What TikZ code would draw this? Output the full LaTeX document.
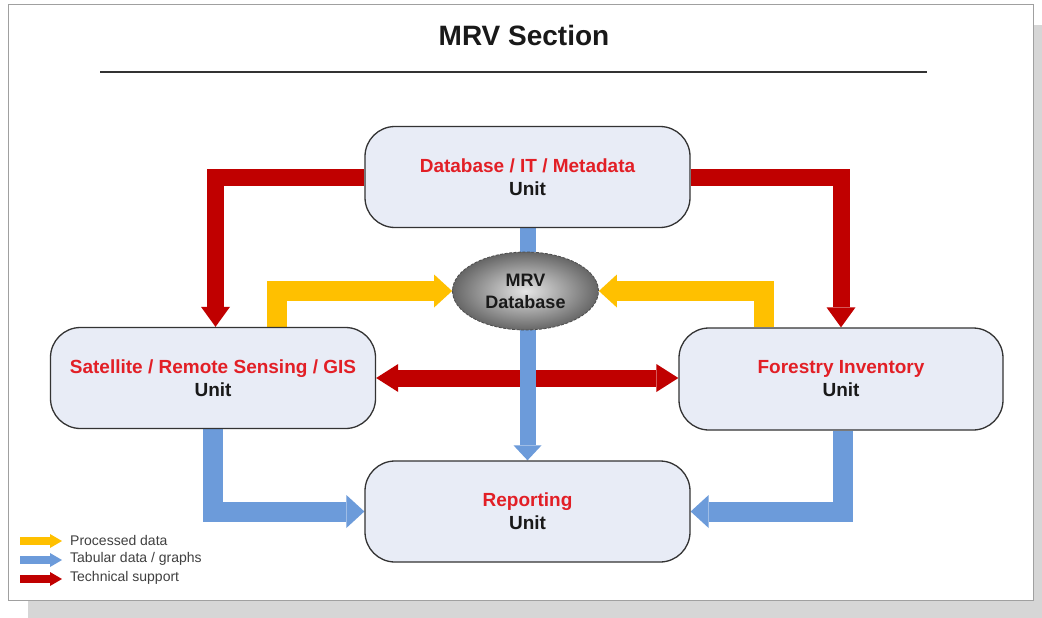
\documentclass[tikz,border=0pt]{standalone}
\usepackage{fontspec}
\setmainfont{Liberation Sans}
\usetikzlibrary{arrows.meta,shapes.geometric,calc}
\definecolor{shadowgray}{HTML}{D6D6D6}
\definecolor{pageline}{HTML}{A0A0A0}
\definecolor{boxfill}{HTML}{E8ECF6}
\definecolor{boxline}{HTML}{333333}
\definecolor{redtext}{HTML}{E21F26}
\definecolor{arrred}{HTML}{C00000}
\definecolor{arryel}{HTML}{FFC000}
\definecolor{arrblue}{HTML}{6C9BDA}
\pgfdeclarelayer{bottom}
\pgfdeclarelayer{background}
\pgfsetlayers{bottom,background,main}
\tikzset{
  unitbox/.style={draw=boxline, line width=1.3pt, fill=boxfill, rounded corners=30pt,
    minimum width=325pt, minimum height=101pt, inner sep=0pt, align=center,
    font=\fontsize{19}{23}\selectfont\bfseries, text=black!90},
  dbell/.style={ellipse, minimum width=146pt, minimum height=78pt, inner sep=0pt,
    draw=black!70, dash pattern=on 3pt off 1.5pt, line width=0.8pt,
    inner color=black!10, outer color=black!60, align=center,
    font=\fontsize{18}{22}\selectfont\bfseries, text=black!90},
  redarr/.style={draw=arrred, line width=17pt,
    -{Triangle[width=29pt,length=20pt,line width=0pt]}},
  reddbl/.style={draw=arrred, line width=17pt,
    {Triangle[width=28pt,length=22pt,line width=0pt]}-{Triangle[width=28pt,length=22pt,line width=0pt]}},
  yelarr/.style={draw=arryel, line width=20pt,
    -{Triangle[width=33pt,length=18pt,line width=0pt]}},
  bluearr/.style={draw=arrblue, line width=20pt,
    -{Triangle[width=33pt,length=18pt,line width=0pt]}},
  bluemid/.style={draw=arrblue, line width=16pt,
    -{Triangle[width=28pt,length=15pt,line width=0pt]}},
  blueshaft/.style={draw=arrblue, line width=16pt},
  legyel/.style={draw=arryel, line width=8pt, -{Triangle[width=14pt,length=12pt,line width=0pt]}},
  legblue/.style={draw=arrblue, line width=8pt, -{Triangle[width=14pt,length=12pt,line width=0pt]}},
  legred/.style={draw=arrred, line width=8pt, -{Triangle[width=14pt,length=12pt,line width=0pt]}},
  legtext/.style={anchor=west, inner sep=0pt, font=\fontsize{14}{16}\selectfont, text=black!75},
}
\begin{document}
\begin{tikzpicture}[x=1pt,y=-1pt]
\useasboundingbox (0,0) rectangle (1042,618);
\begin{pgfonlayer}{bottom}
  \fill[shadowgray] (28,25) rectangle (1042,618);
  \draw[pageline, fill=white, line width=1pt] (8,5) rectangle (1033,600);
\end{pgfonlayer}

\node[font=\fontsize{28}{32}\selectfont\bfseries, text=black!90] (title) at (524,35) {MRV Section};
\draw[line width=2pt, black!80] (100,72) coordinate (rulea) -- (927,72) coordinate (ruleb);

\node[unitbox] (db) at (527.5,177) {\textcolor{redtext}{Database / IT / Metadata}\\Unit};
\node[unitbox] (sat) at (213,378) {\textcolor{redtext}{Satellite / Remote Sensing / GIS}\\Unit};
\node[unitbox, minimum width=324pt, minimum height=102pt] (fi) at (841,379) {\textcolor{redtext}{Forestry Inventory}\\Unit};
\node[unitbox] (rep) at (527.5,511.5) {\textcolor{redtext}{Reporting}\\Unit};
\node[dbell] (mrv) at (525.5,291) {MRV\\Database};

\begin{pgfonlayer}{background}
  \draw[redarr] (db.west) -| ($(sat.north)+(2.5,0)$);
  \draw[redarr] (db.east) -| (fi.north);
  \draw[reddbl] (sat.east) -- (fi.west |- sat.east);
  \draw[yelarr] ($(sat.north)+(64,0)$) |- (mrv.west);
  \draw[yelarr] ($(fi.north)+(-77,0)$) |- (mrv.east);
  \draw[bluearr] (sat.south) |- (rep.west);
  \draw[bluearr] ($(fi.south)+(1.5,0)$) |- (rep.east);
  \draw[blueshaft] (db.south) -- (db.south |- mrv.north);
  \draw[bluemid] (mrv.south -| rep.north) -- (rep.north);
\end{pgfonlayer}

% legend
\coordinate (lg1a) at (20,541); \coordinate (lg1b) at (62,541);
\coordinate (lg2a) at (20,560); \coordinate (lg2b) at (62,560);
\coordinate (lg3a) at (20,579); \coordinate (lg3b) at (62,579);
\draw[legyel] (lg1a) -- (lg1b);
\draw[legblue] (lg2a) -- (lg2b);
\draw[legred] (lg3a) -- (lg3b);
\node[legtext] (lt1) at (70,540) {Processed data};
\node[legtext] (lt2) at (70,559) {Tabular data / graphs};
\node[legtext] (lt3) at (70,578) {Technical support};
\end{tikzpicture}
\end{document}
